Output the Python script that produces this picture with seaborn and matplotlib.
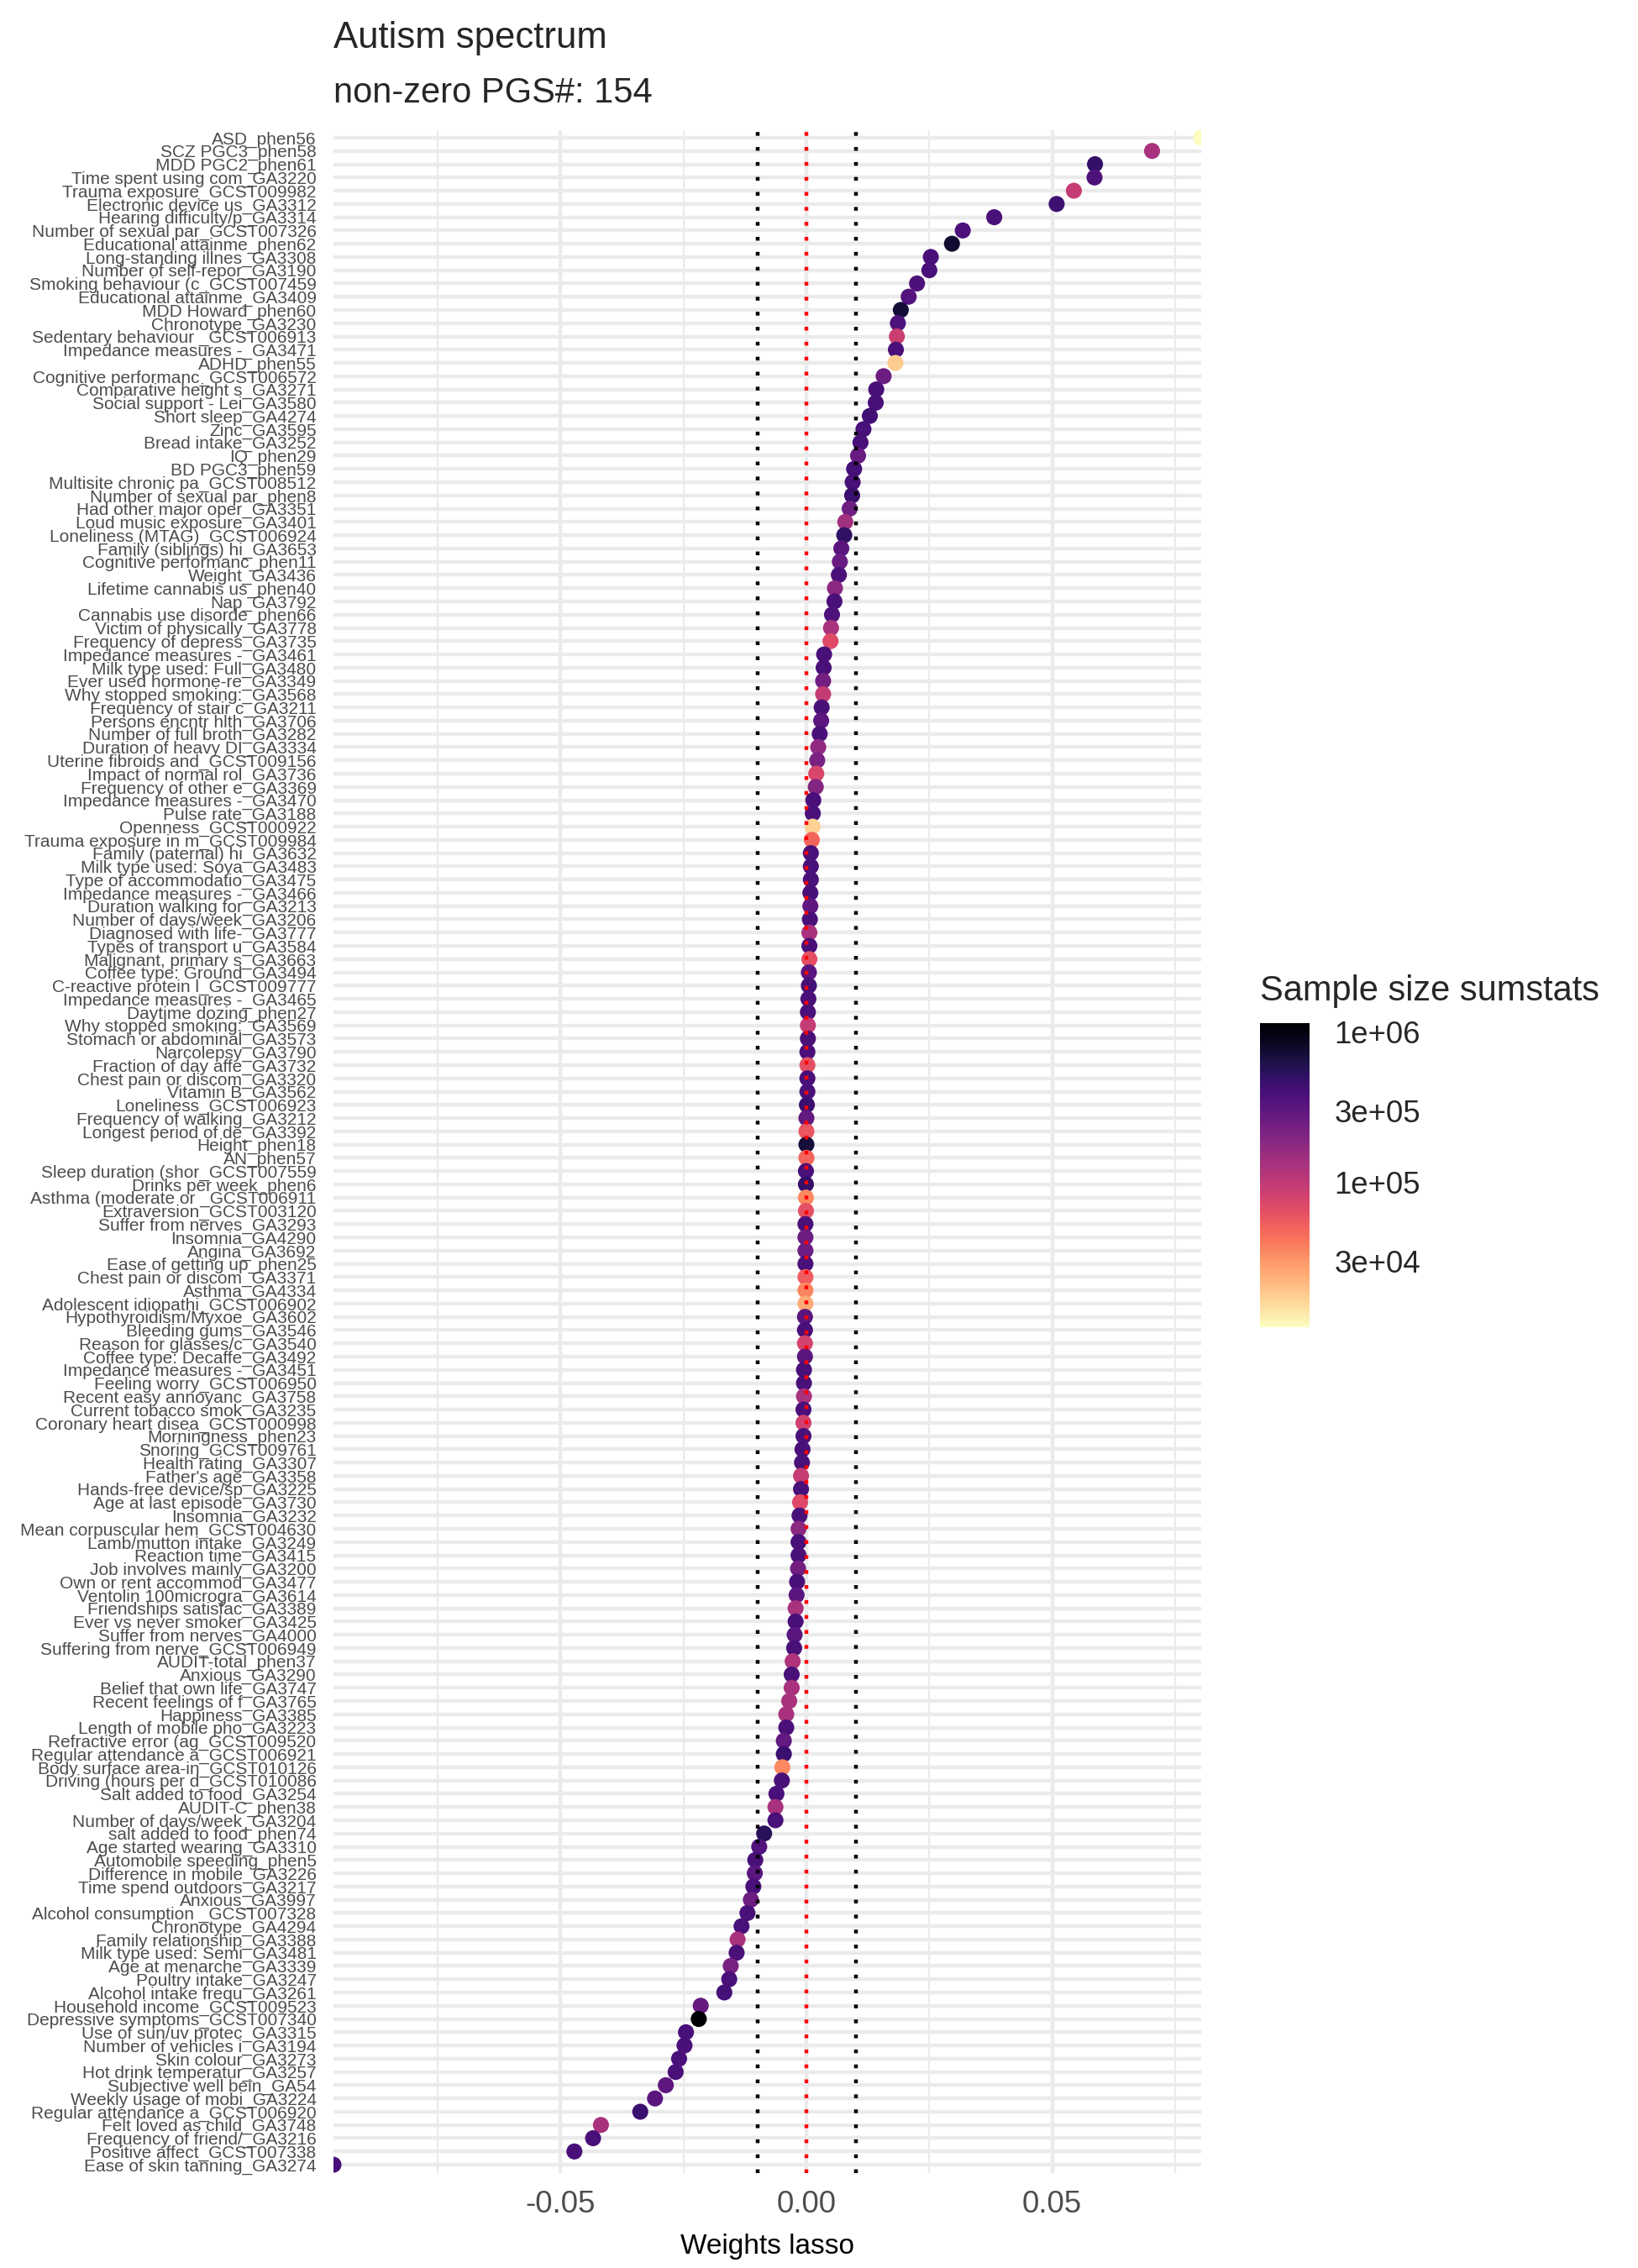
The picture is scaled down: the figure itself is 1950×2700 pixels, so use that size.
import numpy as np
import pandas as pd
import matplotlib
matplotlib.use("Agg")
import matplotlib.pyplot as plt
from matplotlib.colors import LogNorm
import matplotlib.cm as cm
import seaborn as sns

# traits, top (largest weight) to bottom
labels = [
    "ASD_phen56", "SCZ PGC3_phen58", "MDD PGC2_phen61", "Time spent using com_GA3220",
    "Trauma exposure_GCST009982", "Electronic device us_GA3312", "Hearing difficulty/p_GA3314",
    "Number of sexual par_GCST007326", "Educational attainme_phen62", "Long-standing illnes_GA3308",
    "Number of self-repor_GA3190", "Smoking behaviour (c_GCST007459", "Educational attainme_GA3409",
    "MDD Howard_phen60", "Chronotype_GA3230", "Sedentary behaviour _GCST006913",
    "Impedance measures -_GA3471", "ADHD_phen55", "Cognitive performanc_GCST006572",
    "Comparative height s_GA3271", "Social support - Lei_GA3580", "Short sleep_GA4274",
    "Zinc_GA3595", "Bread intake_GA3252", "IQ_phen29", "BD PGC3_phen59",
    "Multisite chronic pa_GCST008512", "Number of sexual par_phen8", "Had other major oper_GA3351",
    "Loud music exposure_GA3401", "Loneliness (MTAG)_GCST006924", "Family (siblings) hi_GA3653",
    "Cognitive performanc_phen11", "Weight_GA3436", "Lifetime cannabis us_phen40", "Nap_GA3792",
    "Cannabis use disorde_phen66", "Victim of physically_GA3778", "Frequency of depress_GA3735",
    "Impedance measures -_GA3461", "Milk type used: Full_GA3480", "Ever used hormone-re_GA3349",
    "Why stopped smoking:_GA3568", "Frequency of stair c_GA3211", "Persons encntr hlth_GA3706",
    "Number of full broth_GA3282", "Duration of heavy DI_GA3334", "Uterine fibroids and_GCST009156",
    "Impact of normal rol_GA3736", "Frequency of other e_GA3369", "Impedance measures -_GA3470",
    "Pulse rate_GA3188", "Openness_GCST000922", "Trauma exposure in m_GCST009984",
    "Family (paternal) hi_GA3632", "Milk type used: Soya_GA3483", "Type of accommodatio_GA3475",
    "Impedance measures -_GA3466", "Duration walking for_GA3213", "Number of days/week_GA3206",
    "Diagnosed with life-_GA3777", "Types of transport u_GA3584", "Malignant, primary s_GA3663",
    "Coffee type: Ground_GA3494", "C-reactive protein l_GCST009777", "Impedance measures -_GA3465",
    "Daytime dozing_phen27", "Why stopped smoking:_GA3569", "Stomach or abdominal_GA3573",
    "Narcolepsy_GA3790", "Fraction of day affe_GA3732", "Chest pain or discom_GA3320",
    "Vitamin B_GA3562", "Loneliness_GCST006923", "Frequency of walking_GA3212",
    "Longest period of de_GA3392", "Height_phen18", "AN_phen57", "Sleep duration (shor_GCST007559",
    "Drinks per week_phen6", "Asthma (moderate or _GCST006911", "Extraversion_GCST003120",
    "Suffer from nerves_GA3293", "Insomnia_GA4290", "Angina_GA3692", "Ease of getting up_phen25",
    "Chest pain or discom_GA3371", "Asthma_GA4334", "Adolescent idiopathi_GCST006902",
    "Hypothyroidism/Myxoe_GA3602", "Bleeding gums_GA3546", "Reason for glasses/c_GA3540",
    "Coffee type: Decaffe_GA3492", "Impedance measures -_GA3451", "Feeling worry_GCST006950",
    "Recent easy annoyanc_GA3758", "Current tobacco smok_GA3235", "Coronary heart disea_GCST000998",
    "Morningness_phen23", "Snoring_GCST009761", "Health rating_GA3307", "Father's age_GA3358",
    "Hands-free device/sp_GA3225", "Age at last episode_GA3730", "Insomnia_GA3232",
    "Mean corpuscular hem_GCST004630", "Lamb/mutton intake_GA3249", "Reaction time_GA3415",
    "Job involves mainly_GA3200", "Own or rent accommod_GA3477", "Ventolin 100microgra_GA3614",
    "Friendships satisfac_GA3389", "Ever vs never smoker_GA3425", "Suffer from nerves_GA4000",
    "Suffering from nerve_GCST006949", "AUDIT-total_phen37", "Anxious_GA3290",
    "Belief that own life_GA3747", "Recent feelings of f_GA3765", "Happiness_GA3385",
    "Length of mobile pho_GA3223", "Refractive error (ag_GCST009520", "Regular attendance a_GCST006921",
    "Body surface area-in_GCST010126", "Driving (hours per d_GCST010086", "Salt added to food_GA3254",
    "AUDIT-C_phen38", "Number of days/week_GA3204", "salt added to food_phen74",
    "Age started wearing_GA3310", "Automobile speeding_phen5", "Difference in mobile_GA3226",
    "Time spend outdoors_GA3217", "Anxious_GA3997", "Alcohol consumption _GCST007328",
    "Chronotype_GA4294", "Family relationship_GA3388", "Milk type used: Semi_GA3481",
    "Age at menarche_GA3339", "Poultry intake_GA3247", "Alcohol intake frequ_GA3261",
    "Household income_GCST009523", "Depressive symptoms_GCST007340", "Use of sun/uv protec_GA3315",
    "Number of vehicles i_GA3194", "Skin colour_GA3273", "Hot drink temperatur_GA3257",
    "Subjective well bein_GA54", "Weekly usage of mobi_GA3224", "Regular attendance a_GCST006920",
    "Felt loved as child_GA3748", "Frequency of friend/_GA3216", "Positive affect_GCST007338",
    "Ease of skin tanning_GA3274",
]

weights = [
    0.0803, 0.0703, 0.0587, 0.0586, 0.0544, 0.0509, 0.0382, 0.0318, 0.0296, 0.0253,
    0.0250, 0.0225, 0.0208, 0.0192, 0.0186, 0.0184, 0.0182, 0.0181, 0.0157, 0.0142,
    0.0141, 0.0129, 0.0116, 0.0110, 0.0105, 0.0097, 0.0094, 0.0093, 0.0088, 0.0079,
    0.0077, 0.0071, 0.0068, 0.0066, 0.0058, 0.0057, 0.0052, 0.0050, 0.0049, 0.0036,
    0.0035, 0.0034, 0.0034, 0.0031, 0.0030, 0.0027, 0.0024, 0.0022, 0.0020, 0.0019,
    0.0014, 0.0013, 0.00125, 0.0011, 0.0009, 0.0009, 0.0009, 0.0008, 0.0008, 0.0007,
    0.0006, 0.0006, 0.0006, 0.0005, 0.0005, 0.0004, 0.0003, 0.0003, 0.0003, 0.0002,
    0.0002, 0.0002, 0.0002, 0.0001, 0.0, 0.0, 0.0, 0.0, -0.0001, -0.0001,
    -0.0001, -0.0001, -0.0002, -0.0002, -0.0002, -0.0002, -0.0002, -0.0002, -0.0002, -0.0003,
    -0.0003, -0.0003, -0.0003, -0.0005, -0.0005, -0.0005, -0.0006, -0.0006, -0.0006, -0.0008,
    -0.0009, -0.0011, -0.0011, -0.0013, -0.0014, -0.0016, -0.0016, -0.0016, -0.0017, -0.0019,
    -0.0020, -0.0022, -0.0022, -0.0024, -0.0025, -0.0028, -0.0030, -0.0030, -0.0035, -0.0041,
    -0.0041, -0.0046, -0.0046, -0.0049, -0.0050, -0.0061, -0.0063, -0.0063, -0.0086, -0.0096,
    -0.0104, -0.0105, -0.0108, -0.0113, -0.0120, -0.0132, -0.0140, -0.0142, -0.0154, -0.0157,
    -0.0167, -0.0215, -0.0219, -0.0245, -0.0248, -0.0259, -0.0266, -0.0286, -0.0308, -0.0338,
    -0.0418, -0.0434, -0.0472, -0.0962,
]

sample_size = [
    1.1e4, 1.3e5, 4.8e5, 3.6e5, 9.5e4, 4.4e5, 3.8e5, 3.7e5, 7.6e5, 3.8e5,
    3.8e5, 3.7e5, 3.4e5, 7.0e5, 3.6e5, 9.0e4, 3.8e5, 1.8e4, 2.6e5, 3.8e5,
    3.8e5, 4.2e5, 3.8e5, 3.8e5, 2.7e5, 4.1e5, 3.9e5, 4.6e5, 2.5e5, 1.4e5,
    5.1e5, 3.2e5, 2.7e5, 3.8e5, 1.8e5, 3.8e5, 3.6e5, 1.3e5, 7.0e4, 3.8e5,
    3.8e5, 2.4e5, 9.5e4, 3.8e5, 3.1e5, 3.8e5, 1.7e5, 2.2e5, 7.5e4, 2.0e5,
    3.8e5, 3.8e5, 1.7e4, 4.9e4, 3.8e5, 3.8e5, 3.8e5, 3.8e5, 3.0e5, 3.8e5,
    1.3e5, 3.8e5, 6.5e4, 3.2e5, 4.0e5, 3.8e5, 3.8e5, 9.5e4, 3.8e5, 3.8e5,
    6.5e4, 3.8e5, 3.8e5, 4.5e5, 2.9e5, 5.8e4, 7.1e5, 5.0e4, 3.8e5, 4.8e5,
    3.5e4, 6.3e4, 3.8e5, 2.6e5, 2.6e5, 3.8e5, 5.4e4, 3.6e4, 2.5e4, 3.2e5,
    3.8e5, 8.0e4, 3.2e5, 3.8e5, 3.8e5, 1.3e5, 3.8e5, 8.5e4, 3.8e5, 3.8e5,
    3.8e5, 9.5e4, 3.8e5, 7.0e4, 3.8e5, 1.8e5, 3.8e5, 3.8e5, 2.4e5, 3.8e5,
    3.2e5, 1.3e5, 3.8e5, 3.2e5, 3.8e5, 1.2e5, 3.8e5, 1.3e5, 1.3e5, 1.3e5,
    3.8e5, 2.9e5, 4.5e5, 3.5e4, 3.8e5, 3.8e5, 1.3e5, 3.8e5, 5.5e5, 3.5e5,
    3.8e5, 3.2e5, 3.8e5, 2.6e5, 3.8e5, 3.8e5, 1.3e5, 3.8e5, 2.2e5, 3.8e5,
    4.0e5, 2.8e5, 1.14e6, 3.8e5, 3.8e5, 3.8e5, 3.8e5, 3.0e5, 3.2e5, 4.5e5,
    1.3e5, 3.8e5, 3.8e5, 3.8e5,
]

cutoff = 0.01
cbar_ticks = [3e4, 1e5, 3e5, 1e6]
cbar_ticklabels = ["3e+04", "1e+05", "3e+05", "1e+06"]

sns.set_theme(style="white")
plt.rcParams['font.family'] = ['Liberation Sans', 'DejaVu Sans']
plt.rcParams['axes.unicode_minus'] = False

df = pd.DataFrame({'label': labels, 'weight': weights, 'n': sample_size})
norm = LogNorm(vmin=df['n'].min(), vmax=df['n'].max())

W, H = 1950, 2700
fig = plt.figure(figsize=(6.5, 9), dpi=300)
p_left, p_right, p_top, p_bot = 397, 1430, 154.5, 2586.5
ax = fig.add_axes([p_left / W, 1 - p_bot / H, (p_right - p_left) / W, (p_bot - p_top) / H])

grid_col = '#EBEBEB'
ax.set_axisbelow(True)
sns.scatterplot(data=df, x='weight', y='label', hue='n', hue_norm=norm, palette='magma_r',
                s=21, linewidth=0, legend=False, ax=ax, zorder=2)

n = len(labels)
ax.set_yticks(range(n))
ax.set_yticklabels(labels)
ax.set_ylim(n - 1 + 0.6, -0.6)
ax.set_xlim(df['weight'].min(), df['weight'].max())

ax.set_xticks([-0.05, 0, 0.05])
ax.set_xticklabels(['-0.05', '0.00', '0.05'])
ax.set_xticks([-0.075, -0.025, 0.025, 0.075], minor=True)
ax.grid(True, which='major', axis='both', color=grid_col, lw=1.07)
ax.grid(True, which='minor', axis='x', color=grid_col, lw=0.53)
for s in ax.spines.values():
    s.set_visible(False)

ax.axvline(-cutoff, color='black', lw=1.07, ls=(0, (1, 3)), zorder=3)
ax.axvline(cutoff, color='black', lw=1.07, ls=(0, (1, 3)), zorder=3)
ax.axvline(0, color='red', lw=1.07, ls=(0, (1, 3)), zorder=3)

ax.tick_params(axis='y', which='both', length=0, pad=4.9, labelsize=5, labelcolor='#4D4D4D')
ax.tick_params(axis='x', which='both', length=0, pad=4.9, labelsize=8.8, labelcolor='#4D4D4D')
ax.set_ylabel('')
ax.set_xlabel('Weights lasso', fontsize=8, color='black', labelpad=4)

fig.text(p_left / W, 1 - 46 / H, 'Autism spectrum', fontsize=10.5, ha='left', va='center')
fig.text(p_left / W, 1 - 111 / H, 'non-zero PGS#: 154', fontsize=10, ha='left', va='center')

# colour bar legend
cax = fig.add_axes([1500 / W, 1 - 1580 / H, 59 / W, 362 / H])
sm = cm.ScalarMappable(norm=norm, cmap='magma_r')
cb = fig.colorbar(sm, cax=cax)
cb.outline.set_visible(False)
cb.set_ticks(cbar_ticks)
cb.set_ticklabels(cbar_ticklabels)
cb.minorticks_off()
cax.tick_params(which='both', direction='in', length=2.8, width=0.6, color='white',
                left=True, right=True, labelsize=8.8, pad=7)
fig.text(1500 / W, 1 - 1180 / H, 'Sample size sumstats', fontsize=10, ha='left', va='center')

fig.savefig('out.png', dpi=300)
